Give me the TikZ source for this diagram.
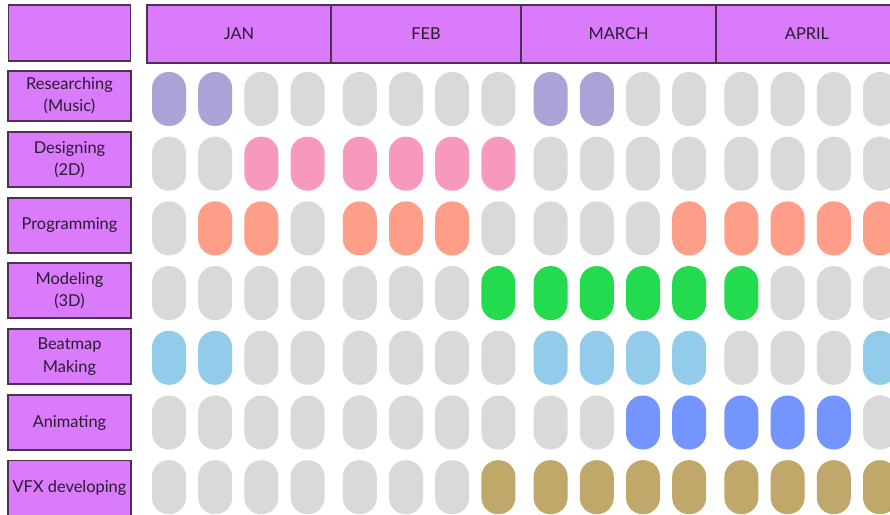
\documentclass[tikz,border=0pt]{standalone}
\usepackage{fontspec}
\setmainfont{Lato}
\usetikzlibrary{positioning}

\definecolor{headfill}{HTML}{DA7BFC}
\definecolor{boxline}{HTML}{4E3152}
\definecolor{labeltext}{HTML}{2A1B30}
\definecolor{gry}{HTML}{D9D9D9}
\definecolor{res}{HTML}{ABA3D7}
\definecolor{dsg}{HTML}{F798BE}
\definecolor{prg}{HTML}{FF9E88}
\definecolor{mdl}{HTML}{24DA4F}
\definecolor{btm}{HTML}{93CBEA}
\definecolor{anm}{HTML}{7395FD}
\definecolor{vfx}{HTML}{BFA86A}

\tikzset{
  headbox/.style={draw=boxline, fill=headfill, line width=1pt, outer sep=0pt,
    text=labeltext, align=center, font=\fontsize{14}{19}\selectfont},
  taskbox/.style={headbox, minimum width=3.69cm},
  pill/.style={fill=#1, rounded corners=0.5cm, minimum width=1.02cm,
    minimum height=1.62cm, inner sep=0pt}
}

\begin{document}
\begin{tikzpicture}[x=0.03cm, y=-0.03cm]

    % keep the page the size of the reference
    \useasboundingbox (0,0) rectangle (890,515);
    \clip (0,0) rectangle (890,515);

    % Corner box and months
    \node[headbox, minimum width=3.66cm, minimum height=1.68cm] (corner) at (69.5,33) {};
    \node[headbox, minimum width=5.52cm, minimum height=1.74cm] (jan) at (239,34) {JAN};
    \node[headbox, minimum width=5.7cm, minimum height=1.74cm] (feb) [right=0pt of jan] {FEB};
    \node[headbox, minimum width=5.85cm, minimum height=1.74cm] (march) [right=0pt of feb] {MARCH};
    \node[headbox, minimum width=5.46cm, minimum height=1.74cm] (april) [right=0pt of march] {APRIL};

    % Task labels
    \node[taskbox, minimum height=1.5cm] (research) at (69.5,96) {Researching\\(Music)};
    \node[taskbox, minimum height=1.65cm] (design) at (69.5,159.5) {Designing\\(2D)};
    \node[taskbox, minimum height=1.65cm] (program) at (69.5,225.5) {Programming};
    \node[taskbox, minimum height=1.65cm] (model) at (69.5,290.5) {Modeling\\(3D)};
    \node[taskbox, minimum height=1.65cm] (beatmap) at (69.5,356.5) {Beatmap\\Making};
    \node[taskbox, minimum height=1.65cm] (animate) at (69.5,422.5) {Animating};
    \node[taskbox, minimum height=1.65cm] (vfxdev) at (69.5,488) {VFX developing};

    % Weekly pills, one row per task
    \foreach \r/\pat in {
        1/{res,res,gry,gry,gry,gry,gry,gry,res,res,gry,gry,gry,gry,gry,gry},
        2/{gry,gry,dsg,dsg,dsg,dsg,dsg,dsg,gry,gry,gry,gry,gry,gry,gry,gry},
        3/{gry,prg,prg,gry,prg,prg,prg,gry,gry,gry,gry,prg,prg,prg,prg,prg},
        4/{gry,gry,gry,gry,gry,gry,gry,mdl,mdl,mdl,mdl,mdl,mdl,gry,gry,gry},
        5/{btm,btm,gry,gry,gry,gry,gry,gry,btm,btm,btm,btm,gry,gry,gry,btm},
        6/{gry,gry,gry,gry,gry,gry,gry,gry,gry,gry,anm,anm,anm,anm,anm,gry},
        7/{gry,gry,gry,gry,gry,gry,gry,vfx,vfx,vfx,vfx,vfx,vfx,vfx,vfx,vfx}}{
      \foreach \c [count=\i] in \pat {
        \pgfmathsetmacro\px{169+46.2*(\i-1)+6*int((\i-1)/4)}
        \pgfmathsetmacro\py{99+64.7*(\r-1)}
        \node[pill=\c] (p-\r-\i) at (\px,\py) {};
      }
    }

\end{tikzpicture}
\end{document}
